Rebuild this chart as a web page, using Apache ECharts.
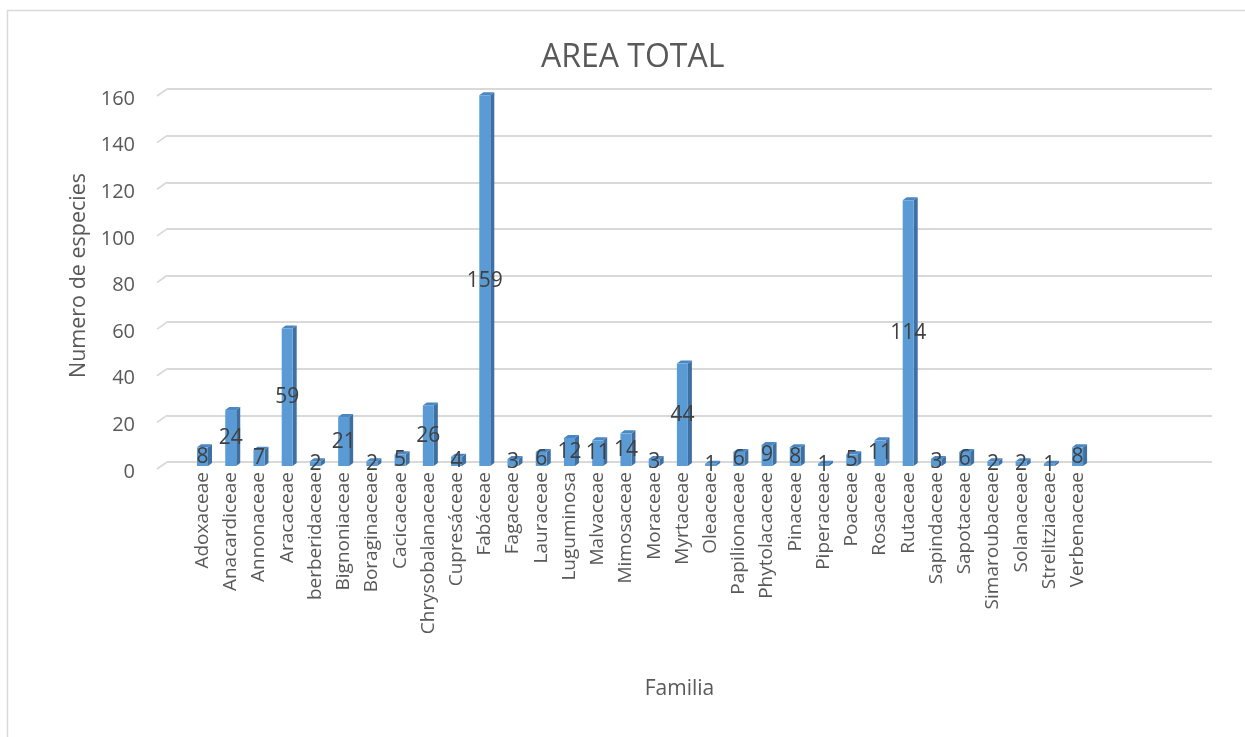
<!DOCTYPE html>
<html>
<head>
<meta charset="utf-8">
<script src="https://cdn.jsdelivr.net/npm/echarts@6/dist/echarts.min.js"></script>
<style>
html,body{margin:0;padding:0;background:#fff;}
#main{width:1245px;height:737px;}
</style>
</head>
<body>
<div id="main"></div>
<script>
// familias y numero de especies
const familias = ['Adoxaceae','Anacardiceae','Annonaceae','Aracaceae','berberidaceae','Bignoniaceae',
  'Boraginaceae','Cacicaceae','Chrysobalanaceae','Cupresáceae','Fabáceae','Fagaceae','Lauraceae',
  'Luguminosa','Malvaceae','Mimosaceae','Moraceae','Myrtaceae','Oleaceae','Papilionaceae',
  'Phytolacaceae','Pinaceae','Piperaceae','Poaceae','Rosaceae','Rutaceae','Sapindaceae','Sapotaceae',
  'Simaroubaceae','Solanaceae','Strelitziaceae','Verbenaceae'];
const especies = [8,24,7,59,2,21,2,5,26,4,159,3,6,12,11,14,3,44,1,6,9,8,1,5,11,114,3,6,2,2,1,8];
const yTicks = [0,20,40,60,80,100,120,140,160];

// the excel chart leaves some empty slots on the right
const slots = familias.concat(['','','','']);
const font = 'Open Sans';
const yMin = yTicks[0], yMax = yTicks[yTicks.length-1], yStep = yTicks[1]-yTicks[0];

const chart = echarts.init(document.getElementById('main'));

const option = {
  animation: false,
  backgroundColor: '#fff',
  title: {
    text: 'AREA TOTAL',
    left: 536,
    top: 37,
    textStyle: {fontFamily: font, fontSize: 32, fontWeight: 'normal', color: '#595959'}
  },
  graphic: [{
    type: 'rect',
    shape: {x: 7.5, y: 10.5, width: 1400, height: 900},
    style: {fill: 'none', stroke: '#d9d9d9', lineWidth: 1.5},
    silent: true
  }],
  grid: [
    {left: 167, right: 33, top: 89, bottom: 275},
    {left: 188.4, right: 40.4, top: 93, bottom: 271}
  ],
  xAxis: [
    {
      gridIndex: 0, type: 'value', min: 0, max: 1, show: true,
      axisLine: {show: false}, axisTick: {show: false}, axisLabel: {show: false}, splitLine: {show: false},
      name: 'Familia', nameLocation: 'middle', nameGap: 217,
      nameTextStyle: {fontFamily: font, fontSize: 21, color: '#595959', padding: [0, 20, 0, 0]}
    },
    {
      gridIndex: 1, type: 'category', data: slots,
      axisLine: {show: false}, axisTick: {show: false},
      axisLabel: {rotate: 90, margin: 6, interval: 0, fontFamily: font, fontSize: 19, color: '#595959'}
    }
  ],
  yAxis: [
    {
      gridIndex: 0, type: 'value', min: yMin, max: yMax, interval: yStep,
      axisLine: {show: false}, axisTick: {show: false},
      axisLabel: {margin: 32, fontFamily: font, fontSize: 20, color: '#595959', verticalAlign: 'top', lineHeight: 20},
      splitLine: {lineStyle: {color: '#d9d9d9', width: 1.8}},
      name: 'Numero de especies', nameLocation: 'middle', nameGap: 75,
      nameTextStyle: {fontFamily: font, fontSize: 21.5, color: '#595959'}
    },
    {
      gridIndex: 1, type: 'value', min: yMin, max: yMax, interval: yStep, show: false,
      splitLine: {show: false}
    }
  ],
  series: [
    {
      // slanted floor edge at the left end of each gridline
      type: 'custom',
      xAxisIndex: 0, yAxisIndex: 0,
      silent: true,
      data: yTicks.map(t => [0, t]),
      renderItem: function (params, api) {
        const p = api.coord([0, api.value(1)]);
        const x = params.coordSys.x;
        return {
          type: 'line',
          shape: {x1: x - 10, y1: p[1] + 7, x2: x, y2: p[1]},
          style: {stroke: '#d9d9d9', lineWidth: 1.8}
        };
      }
    },
    {
      // side and top faces of the 3d columns
      type: 'custom',
      xAxisIndex: 1, yAxisIndex: 1,
      silent: true,
      z: 1,
      data: especies.map((v, i) => [i, v]),
      renderItem: function (params, api) {
        const p0 = api.coord([api.value(0), 0]);
        const p1 = api.coord([api.value(0), api.value(1)]);
        const hw = 5.5, d = 4, h = 3;
        const cx = p1[0];
        return {
          type: 'group',
          children: [
            {
              type: 'polygon',
              shape: {points: [[cx + hw, p1[1]], [cx + hw + d, p1[1] - h], [cx + hw + d, p0[1] - h], [cx + hw, p0[1]]]},
              style: {fill: '#3e70a3'}
            },
            {
              type: 'polygon',
              shape: {points: [[cx - hw, p1[1]], [cx - hw + d, p1[1] - h], [cx + hw + d, p1[1] - h], [cx + hw, p1[1]]]},
              style: {fill: '#4a87c4'}
            }
          ]
        };
      }
    },
    {
      type: 'bar',
      xAxisIndex: 1, yAxisIndex: 1,
      z: 2,
      barWidth: 11,
      data: especies,
      itemStyle: {color: '#5b9bd5'},
      label: {
        show: true, position: 'inside',
        fontFamily: font, fontSize: 21, color: '#404040'
      }
    }
  ]
};

chart.setOption(option);
window.addEventListener('resize', function () {
  chart.resize();
});
</script>
</body>
</html>
